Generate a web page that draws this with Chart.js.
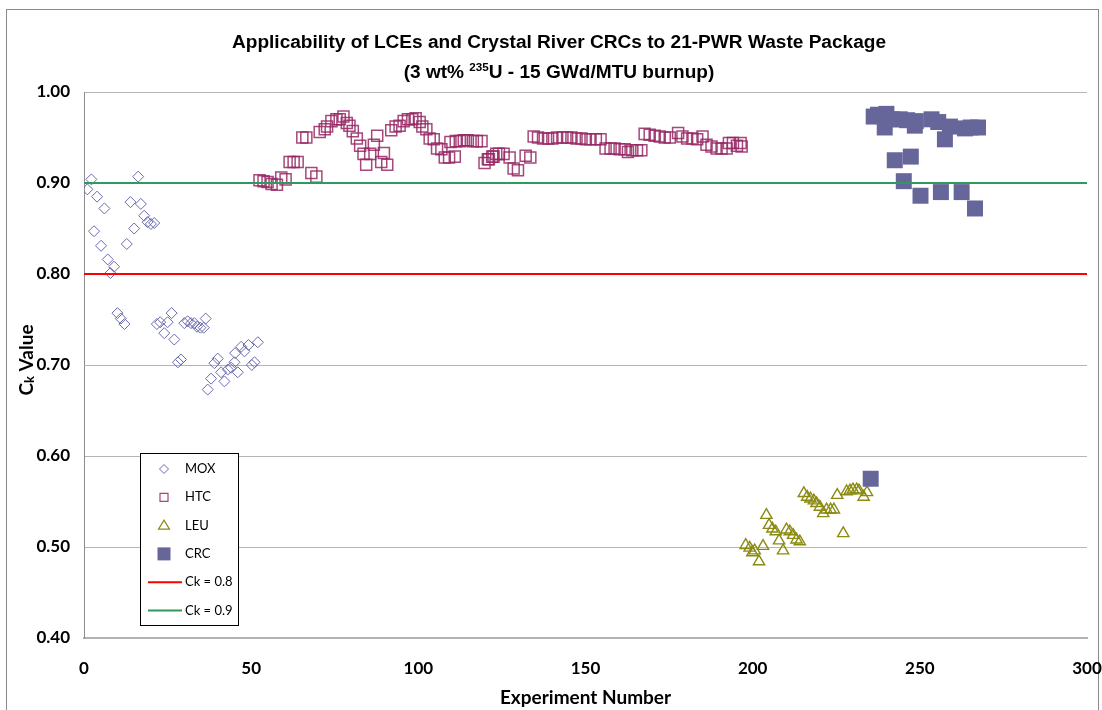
<!DOCTYPE html>
<html><head><meta charset="utf-8">
<script src="https://cdn.jsdelivr.net/npm/chart.js@4"></script>
<style>html,body{margin:0;padding:0;background:#fff}#wrap{width:1102px;height:710px;position:relative}</style>
</head><body><div id="wrap"><canvas id="c" width="1102" height="710"></canvas></div>
<script>
// ---- data ----
const titleLine1 = "Applicability of LCEs and Crystal River CRCs to 21-PWR Waste Package";
const xTitle = "Experiment Number";
const xMin = 0, xMax = 300, xStep = 50;
const yMin = 0.40, yMax = 1.00, yStep = 0.10;

const moxX = [1.0,2.2,3.0,3.9,5.1,6.1,7.1,7.9,9.0,10.0,11.0,12.1,12.8,13.9,15.0,16.2,17.0,18.0,19.0,20.0,21.0,21.8,22.8,24.0,25.0,26.2,27.0,28.1,29.0,30.0,31.0,32.0,33.0,33.8,34.8,35.8,36.4,37.0,38.0,39.0,40.0,41.0,42.0,43.0,44.0,45.0,45.2,46.0,47.0,48.0,49.2,50.2,51.0,52.0];
const moxY = [0.893,0.904,0.847,0.885,0.831,0.872,0.816,0.801,0.808,0.757,0.751,0.745,0.833,0.879,0.850,0.907,0.877,0.864,0.857,0.855,0.856,0.745,0.747,0.735,0.747,0.757,0.728,0.703,0.706,0.746,0.748,0.746,0.746,0.742,0.741,0.741,0.751,0.673,0.685,0.702,0.707,0.692,0.682,0.695,0.697,0.703,0.713,0.692,0.720,0.715,0.722,0.700,0.703,0.725];

const htcX = [52.5,53.7,54.9,56.1,57.7,59.0,60.3,61.5,62.7,63.9,65.3,66.5,68.0,69.5,70.5,72.0,72.7,74.0,75.5,76.5,77.6,78.6,79.4,80.4,81.6,82.6,83.6,84.4,85.6,86.7,87.7,88.9,89.7,90.7,91.9,93.2,94.4,95.6,96.9,98.2,99.2,100.4,101.2,102.4,103.4,104.6,105.6,106.9,107.9,109.2,109.6,110.9,111.2,112.4,113.6,114.8,116.3,117.5,118.9,119.8,120.8,121.1,122.1,122.5,123.3,124.1,125.5,127.3,128.5,129.8,132.1,133.5,134.5,135.8,137.3,138.8,140.1,141.5,143.1,144.5,145.8,147.3,148.8,150.1,151.5,153.1,154.5,156.0,157.5,158.7,160.2,161.7,162.7,164.0,165.4,166.7,167.7,169.2,170.7,172.2,173.7,175.2,177.7,179.0,180.4,182.0,183.4,185.0,186.2,187.7,189.2,190.7,192.2,192.9,194.1,195.3,196.4,196.7];
const htcY = [0.903,0.902,0.901,0.899,0.898,0.906,0.904,0.923,0.923,0.923,0.950,0.950,0.911,0.907,0.956,0.959,0.962,0.968,0.970,0.970,0.973,0.966,0.963,0.957,0.949,0.941,0.932,0.920,0.932,0.942,0.952,0.923,0.933,0.920,0.958,0.962,0.963,0.968,0.970,0.970,0.971,0.967,0.962,0.959,0.949,0.948,0.938,0.937,0.928,0.928,0.945,0.929,0.946,0.946,0.947,0.947,0.946,0.946,0.946,0.922,0.926,0.926,0.929,0.929,0.932,0.932,0.932,0.928,0.916,0.914,0.930,0.928,0.951,0.950,0.949,0.949,0.949,0.950,0.950,0.950,0.950,0.949,0.949,0.948,0.948,0.948,0.948,0.938,0.938,0.938,0.937,0.937,0.934,0.936,0.936,0.936,0.954,0.953,0.952,0.951,0.950,0.950,0.955,0.951,0.949,0.949,0.948,0.951,0.942,0.940,0.938,0.938,0.938,0.944,0.944,0.941,0.944,0.940];

const leuX = [197.9,199.1,199.9,200.6,201.9,203.1,204.1,204.9,205.9,206.9,207.9,209.1,210.1,211.1,212.1,213.1,214.1,215.3,216.3,217.3,218.3,219.1,220.1,221.1,222.1,223.3,224.3,225.3,227.1,228.1,229.1,230.0,231.1,231.8,233.2,234.2];
const leuY = [0.502,0.499,0.494,0.496,0.484,0.501,0.535,0.524,0.520,0.517,0.507,0.496,0.519,0.517,0.513,0.508,0.506,0.559,0.555,0.553,0.551,0.548,0.544,0.537,0.541,0.541,0.541,0.557,0.515,0.561,0.562,0.563,0.563,0.562,0.555,0.560];

const crcX = [235.3,236.2,237.5,239.5,240.0,241.8,242.5,244.0,245.2,246.2,247.3,248.5,248.8,250.2,253.5,255.5,256.3,257.5,259.0,262.5,263.5,265.2,266.5,267.4];
const crcY = [0.575,0.973,0.975,0.961,0.976,0.970,0.925,0.970,0.902,0.969,0.929,0.963,0.968,0.886,0.970,0.967,0.890,0.948,0.962,0.890,0.960,0.961,0.872,0.961];

const ck08 = 0.8, ck09 = 0.9;
const seriesNames = ["MOX","HTC","LEU","CRC","Ck = 0.8","Ck = 0.9"];

// ---- styles ----
const C_MOX = '#6a6aae', C_HTC = 'rgba(150,40,100,0.85)', C_LEU = '#8b8b14', C_CRC = '#66669a';
const C_RED = '#ff0000', C_GREEN = '#2e9a5e';

const pts = (xs, ys) => xs.map((x, i) => ({x, y: ys[i]}));

const decor = {
  id: 'decor',
  beforeDraw(chart) {
    const ctx = chart.ctx;
    ctx.save();
    ctx.fillStyle = '#fff';
    ctx.fillRect(0, 0, chart.width, chart.height);
    ctx.strokeStyle = '#8a8a8a';
    ctx.lineWidth = 1;
    ctx.strokeRect(6.5, 9.5, 1092, 720);
    ctx.restore();
  },
  afterDraw(chart) {
    const ctx = chart.ctx;
    const ca = chart.chartArea;
    ctx.save();
    ctx.fillStyle = '#000';
    ctx.textBaseline = 'alphabetic';
    // title line 1
    const tf = 'bold 18px "Liberation Sans", Arial, sans-serif';
    ctx.font = tf;
    const w1 = ctx.measureText(titleLine1).width;
    const sx = 654 / w1;
    ctx.save();
    ctx.translate(559, 48);
    ctx.scale(sx, 1);
    ctx.textAlign = 'center';
    ctx.fillText(titleLine1, 0, 0);
    ctx.restore();
    // title line 2 with superscript
    const p1 = '(3 wt% ', p2 = '235', p3 = 'U - 15 GWd/MTU burnup)';
    const sf = 'bold 11px "Liberation Sans", Arial, sans-serif';
    ctx.font = tf; const a = ctx.measureText(p1).width, c = ctx.measureText(p3).width;
    ctx.font = sf; const b = ctx.measureText(p2).width;
    const tot = a + b + c;
    ctx.save();
    ctx.translate(559, 78);
    ctx.scale(sx, 1);
    ctx.textAlign = 'left';
    let x0 = -tot / 2;
    ctx.font = tf; ctx.fillText(p1, x0, 0);
    ctx.font = sf; ctx.fillText(p2, x0 + a, -7);
    ctx.font = tf; ctx.fillText(p3, x0 + a + b, 0);
    ctx.restore();
    // x axis title
    ctx.font = 'bold 19px Lato, sans-serif';
    ctx.textAlign = 'center';
    ctx.fillText(xTitle, (ca.left + ca.right) / 2, 704);
    // y axis title  C_k Value
    ctx.save();
    ctx.translate(33, 360);
    ctx.rotate(-Math.PI / 2);
    const fb = 'bold 19px Lato, sans-serif', fs = 'bold 13px Lato, sans-serif';
    ctx.font = fb; const wc = ctx.measureText('C').width, wv = ctx.measureText(' Value').width;
    ctx.font = fs; const wk = ctx.measureText('k').width;
    let xx = -(wc + wk + wv) / 2;
    ctx.textAlign = 'left';
    ctx.font = fb; ctx.fillText('C', xx, 0);
    ctx.font = fs; ctx.fillText('k', xx + wc, 1);
    ctx.font = fb; ctx.fillText(' Value', xx + wc + wk, 0);
    ctx.restore();
    // legend
    const L = 140.5, T = 453.5, W = 98, H = 172;
    ctx.fillStyle = '#fff';
    ctx.fillRect(L, T, W, H);
    ctx.strokeStyle = '#000';
    ctx.lineWidth = 1;
    ctx.strokeRect(L, T, W, H);
    const mx = 164, tx = 185, y0 = 469, dy = 28.3;
    ctx.font = '13px Lato, sans-serif';
    ctx.textAlign = 'left';
    ctx.textBaseline = 'middle';
    for (let i = 0; i < seriesNames.length; i++) {
      const y = y0 + i * dy;
      ctx.beginPath();
      if (i === 0) {
        ctx.strokeStyle = C_MOX; ctx.lineWidth = 1;
        ctx.moveTo(mx - 4.5, y); ctx.lineTo(mx, y - 4.5); ctx.lineTo(mx + 4.5, y); ctx.lineTo(mx, y + 4.5); ctx.closePath(); ctx.stroke();
      } else if (i === 1) {
        ctx.strokeStyle = C_HTC; ctx.lineWidth = 1.2;
        ctx.rect(mx - 4, y - 4, 8, 8); ctx.stroke();
      } else if (i === 2) {
        ctx.strokeStyle = C_LEU; ctx.lineWidth = 1.2;
        ctx.moveTo(mx, y - 5.5); ctx.lineTo(mx + 5.5, y + 3.5); ctx.lineTo(mx - 5.5, y + 3.5); ctx.closePath(); ctx.stroke();
      } else if (i === 3) {
        ctx.fillStyle = C_CRC; ctx.fillRect(mx - 6.5, y - 6.5, 13, 13);
      } else {
        ctx.strokeStyle = i === 4 ? C_RED : C_GREEN; ctx.lineWidth = 2;
        ctx.moveTo(148, y); ctx.lineTo(182, y); ctx.stroke();
      }
      ctx.fillStyle = '#000';
      ctx.fillText(seriesNames[i], tx, y);
    }
    ctx.restore();
  }
};

const tickFont = {family: 'Lato, sans-serif', size: 17, weight: 'bold'};

new Chart(document.getElementById('c'), {
  type: 'scatter',
  data: {
    datasets: [
      {label: seriesNames[0], data: pts(moxX, moxY), pointStyle: 'rectRot', pointRadius: 5.5, pointBackgroundColor: 'rgba(0,0,0,0)', pointBorderColor: C_MOX, pointBorderWidth: 1, order: 2},
      {label: seriesNames[1], data: pts(htcX, htcY), pointStyle: 'rect', pointRadius: 7.8, pointBackgroundColor: 'rgba(0,0,0,0)', pointBorderColor: C_HTC, pointBorderWidth: 1.5, order: 2},
      {label: seriesNames[2], data: pts(leuX, leuY), pointStyle: 'triangle', pointRadius: 6.5, pointBackgroundColor: 'rgba(0,0,0,0)', pointBorderColor: C_LEU, pointBorderWidth: 1.4, order: 2},
      {label: seriesNames[3], data: pts(crcX, crcY), pointStyle: 'rect', pointRadius: 11.3, pointBackgroundColor: C_CRC, pointBorderColor: C_CRC, pointBorderWidth: 0, order: 1},
      {label: seriesNames[4], type: 'line', showLine: true, data: [{x: xMin, y: ck08}, {x: xMax, y: ck08}], borderColor: C_RED, borderWidth: 2, pointRadius: 0, order: 0},
      {label: seriesNames[5], type: 'line', showLine: true, data: [{x: xMin, y: ck09}, {x: xMax, y: ck09}], borderColor: C_GREEN, borderWidth: 2, pointRadius: 0, order: 0}
    ]
  },
  options: {
    responsive: false,
    animation: false,
    events: [],
    layout: {padding: {left: 0, top: 92, right: 15, bottom: 0}},
    plugins: {legend: {display: false}, tooltip: {enabled: false}, title: {display: false}},
    scales: {
      x: {
        type: 'linear', min: xMin, max: xMax,
        ticks: {stepSize: xStep, font: tickFont, color: '#000', padding: 20, maxRotation: 0},
        grid: {display: false, drawTicks: false},
        border: {display: true, color: '#b4b4b4', width: 2},
        afterFit(s) { s.height = 72; s.paddingLeft = 0; s.paddingRight = 0; }
      },
      y: {
        min: yMin, max: yMax,
        ticks: {stepSize: yStep, font: tickFont, color: '#000', padding: 14, callback: v => v.toFixed(2)},
        grid: {color: '#b4b4b4', lineWidth: 1, drawTicks: false},
        border: {display: true, color: '#8c8c8c', width: 1},
        afterFit(s) { s.width = 84; s.paddingTop = 0; s.paddingBottom = 0; }
      }
    }
  },
  plugins: [decor]
});
</script>
</body></html>
